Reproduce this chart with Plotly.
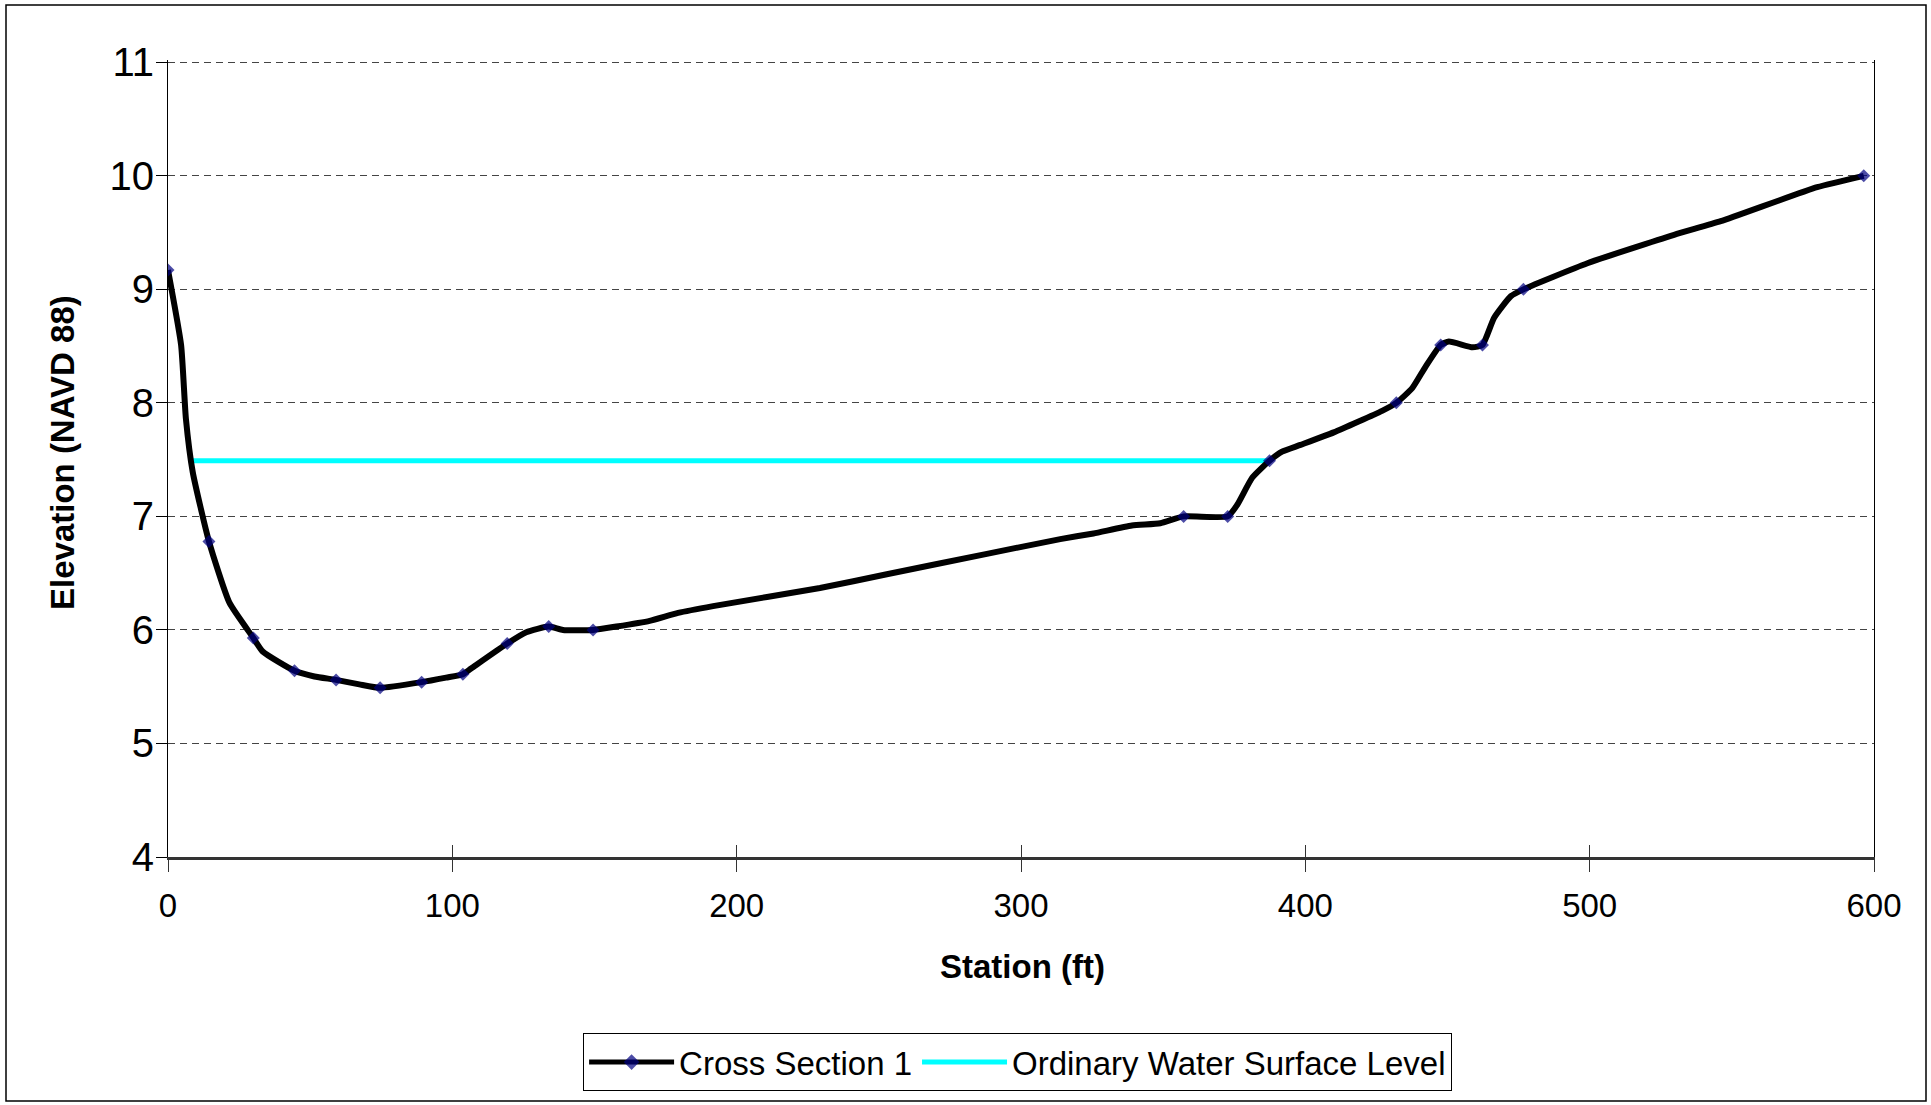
import plotly.graph_objects as go

# Surveyed ground profile for Cross Section 1 (station in ft, elevation in ft NAVD 88)
station = [0, 4.6, 6.3, 8.7, 14.4, 21.6, 30.0, 33.3, 44.5, 51.5, 59.1, 67.3, 74.6,
           89.2, 97.8, 103.7, 106.6, 119.3, 126.0, 133.9, 138.9, 149.5, 157.7, 169.4,
           179.4, 191.7, 229.3, 252.8, 288.0, 313.8, 325.5, 339.0, 349.0, 357.2,
           372.7, 376.0, 381.3, 387.4, 391.8, 398.3, 410.0, 427.0, 432.0, 437.6,
           442.3, 447.6, 450.5, 458.8, 462.3, 466.4, 472.3, 476.7, 499.2, 529.7,
           546.1, 580.0, 596.4]
elevation = [9.17, 8.51, 7.86, 7.39, 6.78, 6.24, 5.93, 5.81, 5.64, 5.59, 5.56, 5.52, 5.49,
             5.54, 5.58, 5.61, 5.66, 5.88, 5.98, 6.03, 6.00, 6.00, 6.03, 6.08,
             6.15, 6.21, 6.37, 6.49, 6.67, 6.80, 6.85, 6.92, 6.94, 7.00,
             7.00, 7.10, 7.34, 7.49, 7.57, 7.63, 7.74, 7.93, 8.00, 8.13,
             8.32, 8.51, 8.54, 8.49, 8.51, 8.75, 8.94, 9.00, 9.23, 9.48,
             9.60, 9.90, 10.00]

# Stations where a survey shot is flagged with a marker
marked_stations = [0, 14.4, 30.0, 44.5, 59.1, 74.6, 89.2, 103.7, 119.3, 133.9, 149.5,
                   357.2, 372.7, 387.4, 432.0, 447.6, 462.3, 476.7, 596.4]

# Ordinary water surface level across the channel
ows_station = [8.0, 387.4]
ows_elevation = [7.49, 7.49]

x_ticks = [0, 100, 200, 300, 400, 500, 600]
y_ticks = [4, 5, 6, 7, 8, 9, 10, 11]

FONT = "Liberation Sans, Arial, sans-serif"
marked = set(marked_stations)
marker_sizes = [10 if s in marked else 0 for s in station]

fig = go.Figure()

fig.add_trace(go.Scatter(
    x=ows_station, y=ows_elevation, mode="lines",
    name="Ordinary Water Surface Level",
    line=dict(color="#00FFFF", width=5),
))

fig.add_trace(go.Scatter(
    x=station, y=elevation, mode="lines+markers",
    name="Cross Section 1",
    line=dict(color="black", width=6, shape="spline", smoothing=0.5),
    marker=dict(symbol="diamond", size=marker_sizes, color="#000080",
                line=dict(width=0)),
))

# Invisible trace that carries the inward half of the x tick marks
fig.add_trace(go.Scatter(x=[0, 600], y=[4, 4], xaxis="x2", mode="lines",
                         line=dict(width=0), showlegend=False, hoverinfo="skip"))

fig.update_layout(
    width=1931, height=1105, autosize=False,
    margin=dict(l=168, r=57, t=60, b=248),
    paper_bgcolor="white", plot_bgcolor="white",
    font=dict(family=FONT, size=33, color="black"),
    showlegend=True,
    legend=dict(
        orientation="h", x=0.498, xanchor="center", y=-0.221, yanchor="top",
        bordercolor="black", borderwidth=1, bgcolor="white",
        font=dict(family=FONT, size=33, color="black"),
        traceorder="reversed", itemwidth=85, itemsizing="constant",
    ),
    xaxis=dict(
        range=[0, 600], tickvals=x_ticks, ticktext=[str(v) for v in x_ticks],
        showgrid=False, zeroline=False,
        showline=True, linecolor="#333333", linewidth=3,
        ticks="outside", ticklen=12, tickwidth=1, tickcolor="#333333",
        ticklabelstandoff=5,
        tickfont=dict(family=FONT, size=33, color="black"),
    ),
    xaxis2=dict(
        range=[0, 600], overlaying="x", side="bottom", anchor="y",
        tickvals=x_ticks, showticklabels=False, showgrid=False, zeroline=False,
        showline=False, ticks="inside", ticklen=12, tickwidth=1, tickcolor="#333333",
    ),
    yaxis=dict(
        range=[4, 11.02], tickvals=y_ticks, ticktext=[str(v) for v in y_ticks],
        showgrid=True, gridcolor="#444444", gridwidth=1.3, griddash="7px,5px",
        zeroline=False,
        showline=True, linecolor="black", linewidth=1, mirror=True,
        ticks="outside", ticklen=11, tickwidth=1, tickcolor="black",
        ticklabelstandoff=-6,
        tickfont=dict(family=FONT, size=40, color="black"),
    ),
    annotations=[
        dict(text="<b>Station (ft)</b>", xref="paper", yref="paper",
             x=0.5006, y=-0.138, xanchor="center", yanchor="middle",
             showarrow=False, font=dict(family=FONT, size=33, color="black")),
        dict(text="<b>Elevation (NAVD 88)</b>", xref="paper", yref="paper",
             x=-0.0615, y=0.507, xanchor="center", yanchor="middle", textangle=-90,
             showarrow=False, font=dict(family=FONT, size=33, color="black")),
    ],
    shapes=[
        dict(type="rect", xref="paper", yref="paper",
             x0=(6 - 168) / 1706, x1=(1926 - 168) / 1706,
             y0=(857 - 1101) / 797, y1=(857 - 5) / 797,
             line=dict(color="black", width=1.5), fillcolor="rgba(0,0,0,0)",
             layer="below"),
    ],
)

fig.write_html("out.html")
